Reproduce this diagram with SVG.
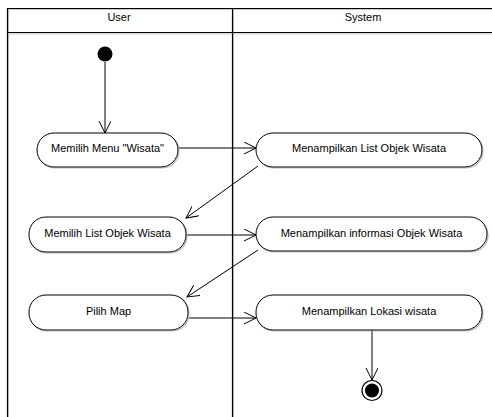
<svg xmlns="http://www.w3.org/2000/svg" width="492" height="417" viewBox="0 0 492 417">
  <style>
    .frame { stroke: #000; stroke-width: 1.2; fill: none; }
    .shadow { stroke: #c8c8c8; stroke-width: 1.2; fill: none; }
    .act { fill: #fff; stroke: #000; stroke-width: 1; }
    .act-shadow { fill: none; stroke: #bdbdbd; stroke-width: 1.2; }
    .label { font-family: "Liberation Sans", Arial, sans-serif; font-size: 11px; fill: #000; text-anchor: middle; }
    .flow { stroke: #000; stroke-width: 1; fill: none; marker-end: url(#open); }
  </style>
  <defs>
    <marker id="open" markerWidth="14" markerHeight="14" refX="12" refY="6" orient="auto" markerUnits="userSpaceOnUse">
      <path d="M0,0 L12,6 L0,12" fill="none" stroke="#000" stroke-width="1"/>
    </marker>
  </defs>

  <rect width="492" height="417" fill="#fff"/>

  <!-- swimlane frame -->
  <g id="lanes">
    <line class="shadow" x1="8" y1="9.5" x2="492" y2="9.5"/>
    <line class="shadow" x1="8" y1="34" x2="492" y2="34"/>
    <line class="shadow" x1="8.5" y1="9" x2="8.5" y2="417"/>
    <line class="shadow" x1="233.5" y1="9" x2="233.5" y2="417"/>
    <line class="frame" x1="7" y1="8.5" x2="492" y2="8.5"/>
    <line class="frame" x1="7" y1="32.5" x2="492" y2="32.5"/>
    <line class="frame" x1="7.5" y1="8" x2="7.5" y2="417"/>
    <line class="frame" x1="232.5" y1="8" x2="232.5" y2="417"/>
    <text class="label" x="119" y="21">User</text>
    <text class="label" x="363" y="21">System</text>
  </g>

  <g id="connectors">
    <line class="flow" x1="105" y1="62" x2="105" y2="133"/>
    <line class="flow" x1="178" y1="148" x2="256" y2="148"/>
    <line class="flow" x1="258" y1="166" x2="186" y2="218"/>
    <line class="flow" x1="186" y1="235" x2="256" y2="235"/>
    <line class="flow" x1="258" y1="250" x2="187" y2="297"/>
    <line class="flow" x1="188" y1="318" x2="256" y2="318"/>
    <line class="flow" x1="372" y1="330" x2="372" y2="380"/>
  </g>

  <g id="start">
    <circle cx="105" cy="54" r="7.5" fill="#000"/>
  </g>

  <g id="memilih-menu">
    <rect class="act-shadow" x="38" y="134" width="141" height="34" rx="17"/>
    <rect class="act" x="37" y="133" width="141" height="34" rx="17"/>
    <text class="label" x="107.5" y="152">Memilih Menu "Wisata"</text>
  </g>

  <g id="menampilkan-list">
    <rect class="act-shadow" x="257" y="134" width="226" height="34" rx="17"/>
    <rect class="act" x="256" y="133" width="226" height="34" rx="17"/>
    <text class="label" x="369" y="152">Menampilkan List Objek Wisata</text>
  </g>

  <g id="memilih-list">
    <rect class="act-shadow" x="30" y="218" width="157" height="35" rx="17"/>
    <rect class="act" x="29" y="217" width="157" height="35" rx="17"/>
    <text class="label" x="107.5" y="237">Memilih List Objek Wisata</text>
  </g>

  <g id="menampilkan-informasi">
    <rect class="act-shadow" x="257" y="218" width="231" height="34" rx="17"/>
    <rect class="act" x="256" y="217" width="231" height="34" rx="17"/>
    <text class="label" x="371.5" y="237">Menampilkan informasi Objek Wisata</text>
  </g>

  <g id="pilih-map">
    <rect class="act-shadow" x="30" y="296" width="159" height="35" rx="17"/>
    <rect class="act" x="29" y="295" width="159" height="35" rx="17"/>
    <text class="label" x="108.5" y="315">Pilih Map</text>
  </g>

  <g id="menampilkan-lokasi">
    <rect class="act-shadow" x="257" y="296" width="226" height="35" rx="17"/>
    <rect class="act" x="256" y="295" width="226" height="35" rx="17"/>
    <text class="label" x="369" y="315">Menampilkan Lokasi wisata</text>
  </g>

  <g id="end">
    <circle cx="372" cy="390.5" r="10" fill="#fff" stroke="#000" stroke-width="1.2"/>
    <circle cx="372" cy="390.5" r="7" fill="#000"/>
  </g>
</svg>
